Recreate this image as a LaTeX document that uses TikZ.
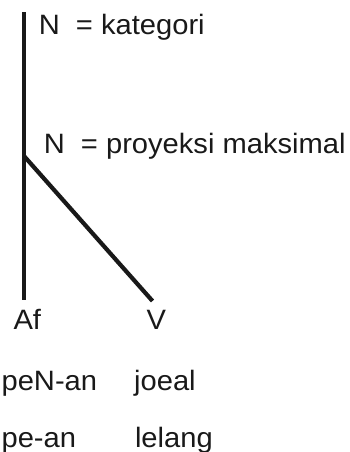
\documentclass[tikz,border=0pt]{standalone}
\usepackage{fontspec}
\setmainfont{Liberation Sans}[FakeStretch=1.04]
\begin{document}
\begin{tikzpicture}[x=1pt,y=1pt,
  lbl/.style={anchor=base west,inner sep=0pt,font=\fontsize{28}{30}\selectfont,text=black!90},
  branch/.style={line width=4.2pt,draw=black!90}]
\useasboundingbox (0,0) rectangle (350,-452);
\coordinate (top) at (24,-12.5);
\coordinate (split) at (24,-156);
\coordinate (afend) at (24,-300);
\coordinate (vend) at (152.5,-301);
\draw[branch] (top) -- (afend);
\draw[branch] (split) -- (vend);
\node[lbl] (kat) at (38.6,-35) {N~~= kategori};
\node[lbl] (proy) at (43.6,-153) {N~~= proyeksi maksimal};
\node[lbl] (af) at (13.3,-329.5) {Af};
\node[lbl] (v) at (146.5,-329.5) {V};
\node[lbl] (pen) at (1.4,-390) {peN-an};
\node[lbl] (joeal) at (134,-390) {joeal};
\node[lbl] (pean) at (1.4,-447) {pe-an};
\node[lbl] (lelang) at (134.8,-447) {lelang};
\end{tikzpicture}
\end{document}
